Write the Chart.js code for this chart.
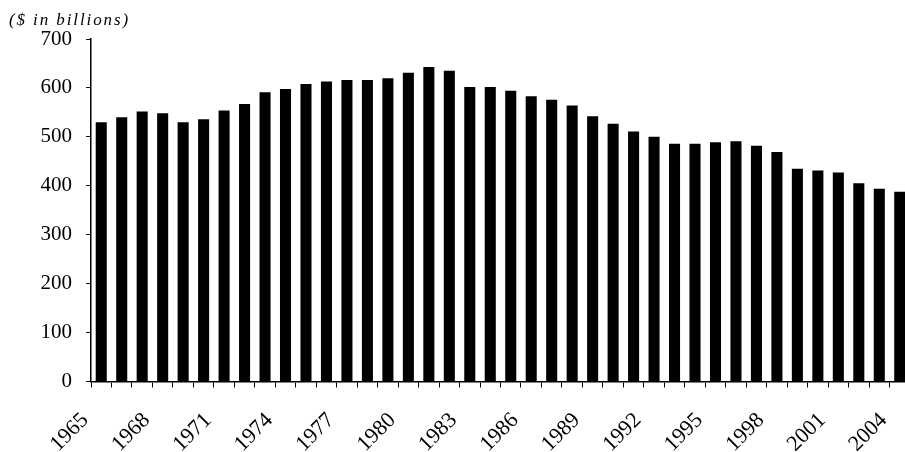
<!DOCTYPE html>
<html>
<head>
<meta charset="utf-8">
<script src="https://cdn.jsdelivr.net/npm/chart.js@4/dist/chart.umd.min.js"></script>
<style>
  html, body { margin: 0; padding: 0; background: #fff; overflow: hidden; width: 905px; height: 452px; }
  #wrap { position: relative; width: 910px; height: 452px; }
  #unit { position: absolute; left: 9px; top: 10px; font: italic 17px "Liberation Serif", "Times New Roman", serif; letter-spacing: 1.9px; color: #000; }
</style>
</head>
<body>
<div id="wrap">
  <div id="unit">($ in billions)</div>
  <canvas id="c" width="910" height="452"></canvas>
</div>
<script>
const years = [1965,1966,1967,1968,1969,1970,1971,1972,1973,1974,1975,1976,1977,1978,1979,1980,1981,1982,1983,1984,1985,1986,1987,1988,1989,1990,1991,1992,1993,1994,1995,1996,1997,1998,1999,2000,2001,2002,2003,2004];
const values = [530,540,552,548,530,536,554,567,591,598,608,613,616,616,620,631,643,635,602,602,594,583,576,564,542,527,511,500,486,486,489,491,482,469,435,431,427,405,394,388];
const yTicks = [0,100,200,300,400,500,600,700];
const unitLabel = "($ in billions)";

const serif = '"Liberation Serif", "Times New Roman", serif';

new Chart(document.getElementById('c'), {
  type: 'bar',
  data: {
    labels: years.map(String),
    datasets: [{
      data: values,
      backgroundColor: '#000',
      borderWidth: 0,
      barPercentage: 0.54,
      categoryPercentage: 1.0
    }]
  },
  options: {
    responsive: false,
    animation: false,
    layout: { padding: { top: 39, right: 0, bottom: 0, left: 0 } },
    plugins: { legend: { display: false }, tooltip: { enabled: false }, title: { display: false } },
    scales: {
      x: {
        offset: true,
        border: { display: true, color: '#000', width: 1.5 },
        grid: { display: true, drawOnChartArea: false, drawTicks: true, tickLength: 6, color: '#000', lineWidth: 1, offset: true },
        ticks: {
          autoSkip: false,
          maxRotation: 45, minRotation: 45,
          padding: 20,
          labelOffset: -16,
          color: '#000',
          font: { family: serif, size: 22 },
          callback: function(v, i) { return i % 3 === 0 ? years[i] : ''; }
        },
        afterFit: function(s) { s.height = 70.5; s.paddingLeft = 0; s.paddingRight = 0; }
      },
      y: {
        min: 0, max: 700,
        border: { display: true, color: '#000', width: 1.5 },
        grid: { display: true, drawOnChartArea: false, drawTicks: true, tickLength: 5, color: '#000', lineWidth: 1 },
        afterBuildTicks: function(s) { s.ticks = yTicks.map(v => ({ value: v })); },
        ticks: {
          padding: 14,
          color: '#000',
          font: { family: serif, size: 21 },
          callback: function(v) { return v; }
        },
        afterFit: function(s) { s.width = 91; s.paddingTop = 0; s.paddingBottom = 0; }
      }
    }
  }
});
</script>
</body>
</html>
